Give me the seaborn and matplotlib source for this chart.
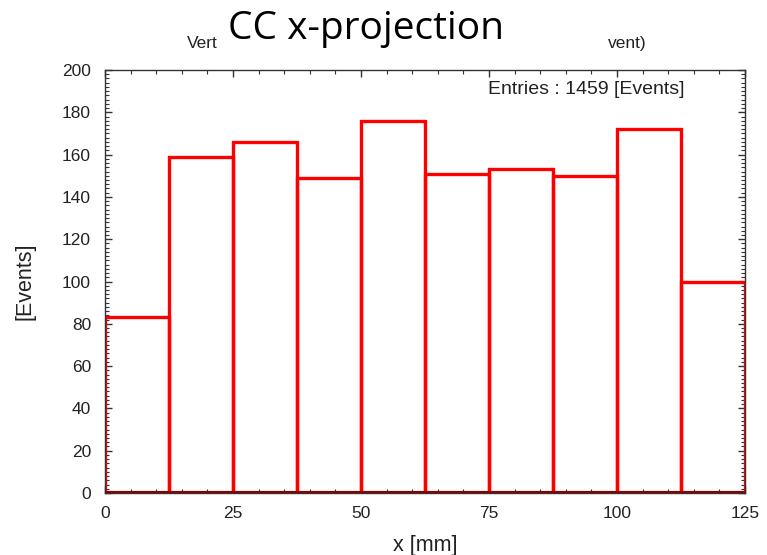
import numpy as np
import pandas as pd
import matplotlib
matplotlib.use("Agg")
import matplotlib.pyplot as plt
from matplotlib.ticker import MultipleLocator
import seaborn as sns

# histogram contents
bin_edges = [0, 12.5, 25, 37.5, 50, 62.5, 75, 87.5, 100, 112.5, 125]
counts = [83, 159, 166, 149, 176, 151, 153, 150, 172, 100]
x_ticks = [0, 25, 50, 75, 100, 125]
y_ticks = [0, 20, 40, 60, 80, 100, 120, 140, 160, 180, 200]

centers = [(a + b) / 2 for a, b in zip(bin_edges[:-1], bin_edges[1:])]
df = pd.DataFrame({"x": centers, "n": counts})

sns.set_style("ticks")
plt.rcParams["font.family"] = ["Liberation Sans", "DejaVu Sans"]

fig = plt.figure(figsize=(7.67, 5.55), dpi=100)
ax = fig.add_axes([105 / 767, 62 / 555, 640 / 767, 423 / 555])

sns.histplot(data=df, x="x", weights="n", bins=bin_edges, element="bars",
             fill=False, color="red", linewidth=2.4, ax=ax)
ax.axhline(0, color="#8b0000", linewidth=3, zorder=5)

ax.set_xlim(0, 125)
ax.set_ylim(0, 200)
ax.set_xticks(x_ticks)
ax.set_yticks(y_ticks)
ax.xaxis.set_minor_locator(MultipleLocator(5))
ax.yaxis.set_minor_locator(MultipleLocator(2))
ax.tick_params(which="both", direction="in", top=True, right=True,
               labelsize=12.5, color="#333333", labelcolor="#222222")
ax.tick_params(axis="x", which="major", pad=9)
ax.tick_params(axis="y", which="major", pad=10)
ax.tick_params(which="major", length=5, width=1)
ax.tick_params(which="minor", length=3, width=0.8)
for s in ax.spines.values():
    s.set_color("#333333")
    s.set_linewidth(1)
    s.set_visible(True)

ax.set_xlabel("x [mm]", fontsize=15.5, color="#222222", va="center")
ax.set_ylabel("[Events]", fontsize=15.5, color="#222222", va="center")
ax.xaxis.set_label_coords(0.5, (493 - 545) / 423)
ax.yaxis.set_label_coords((25 - 105) / 640, 0.5)

ax.text((685 - 105) / 640, (493 - 90) / 423, "Entries : 1459 [Events]",
        transform=ax.transAxes, ha="right", va="center", fontsize=14,
        color="#222222")

# leftover bits of the original title behind the overlay
fig.text(187 / 767, 1 - 48 / 555, "Vert", fontsize=12.5, color="#222222",
         ha="left", va="baseline")
fig.text(608 / 767, 1 - 48 / 555, "vent)", fontsize=12.5, color="#222222",
         ha="left", va="baseline")
fig.text(366 / 767, 1 - 39 / 555, "CC x-projection", fontsize=28,
         family=["Open Sans", "DejaVu Sans"], ha="center", va="baseline",
         color="black", bbox=dict(facecolor="white", edgecolor="none", pad=3))

fig.savefig("out.png", dpi=100)
plt.close(fig)
